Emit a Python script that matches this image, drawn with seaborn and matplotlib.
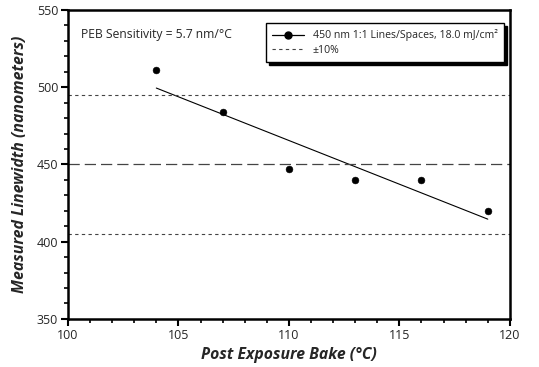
import numpy as np
import matplotlib
matplotlib.use("Agg")
import matplotlib.pyplot as plt
import seaborn as sns
import pandas as pd
from matplotlib.ticker import MultipleLocator
from matplotlib.lines import Line2D

temps = [104, 107, 110, 113, 116, 119]
linewidths = [511, 484, 447, 440, 440, 420]
target = 450
tolerance_lines = [495, 405]
legend_labels = ["450 nm 1:1 Lines/Spaces, 18.0 mJ/cm²", "±10%"]
annotation = "PEB Sensitivity = 5.7 nm/°C"

sns.set_theme(style="white")
plt.rcParams['font.family'] = ['Open Sans', 'DejaVu Sans']

df = pd.DataFrame({"temp": temps, "lw": linewidths})

fig = plt.figure(figsize=(5.39, 3.67), dpi=100)
ax = fig.add_axes([0.126, 0.131, 0.820, 0.842])

sns.scatterplot(data=df, x="temp", y="lw", ax=ax, color="black", s=24,
                edgecolor="black", zorder=3)
coef = np.polyfit(temps, linewidths, 1)
xs = np.array([min(temps), max(temps)])
ax.plot(xs, np.polyval(coef, xs), color="black", lw=0.8)

for yv in tolerance_lines:
    ax.axhline(yv, color="#444444", lw=0.8, ls=(0, (3, 3)))
ax.axhline(target, color="#444444", lw=0.9, ls=(0, (9, 4)))

ax.set_xlim(100, 120)
ax.set_ylim(350, 550)
ax.xaxis.set_major_locator(MultipleLocator(5))
ax.xaxis.set_minor_locator(MultipleLocator(1))
ax.yaxis.set_major_locator(MultipleLocator(50))
ax.yaxis.set_minor_locator(MultipleLocator(10))
ax.tick_params(axis="both", which="major", direction="out", length=5, width=1.5,
               labelsize=9, color="black", pad=2, bottom=True, left=True)
ax.tick_params(axis="both", which="minor", direction="out", length=3, width=1.2,
               color="black", bottom=True, left=True)
for s in ax.spines.values():
    s.set_color("black")
    s.set_linewidth(1.8)

ax.set_xlabel("Post Exposure Bake (°C)", fontsize=11.3, fontweight="bold",
              fontstyle="italic", labelpad=4)
ax.set_ylabel("Measured Linewidth (nanometers)", fontsize=11.4, fontweight="bold",
              fontstyle="italic", labelpad=6)

ax.text(0.03, 0.94, annotation, transform=ax.transAxes, fontsize=8.7,
        va="top", ha="left")

handles = [Line2D([0], [0], color="black", lw=0.9, marker="o", markersize=5),
           Line2D([0], [0], color="#444444", lw=0.8, ls=(0, (3, 3)))]
leg = ax.legend(handles, legend_labels, loc="upper right", fontsize=7.6,
                frameon=True, fancybox=False,
                shadow={"color": "black", "alpha": 1.0},
                edgecolor="black",
                handlelength=3.0, borderpad=0.6, labelspacing=0.35,
                bbox_to_anchor=(0.998, 0.975))
leg.get_frame().set_linewidth(1.0)

fig.savefig("out.png", dpi=100)
